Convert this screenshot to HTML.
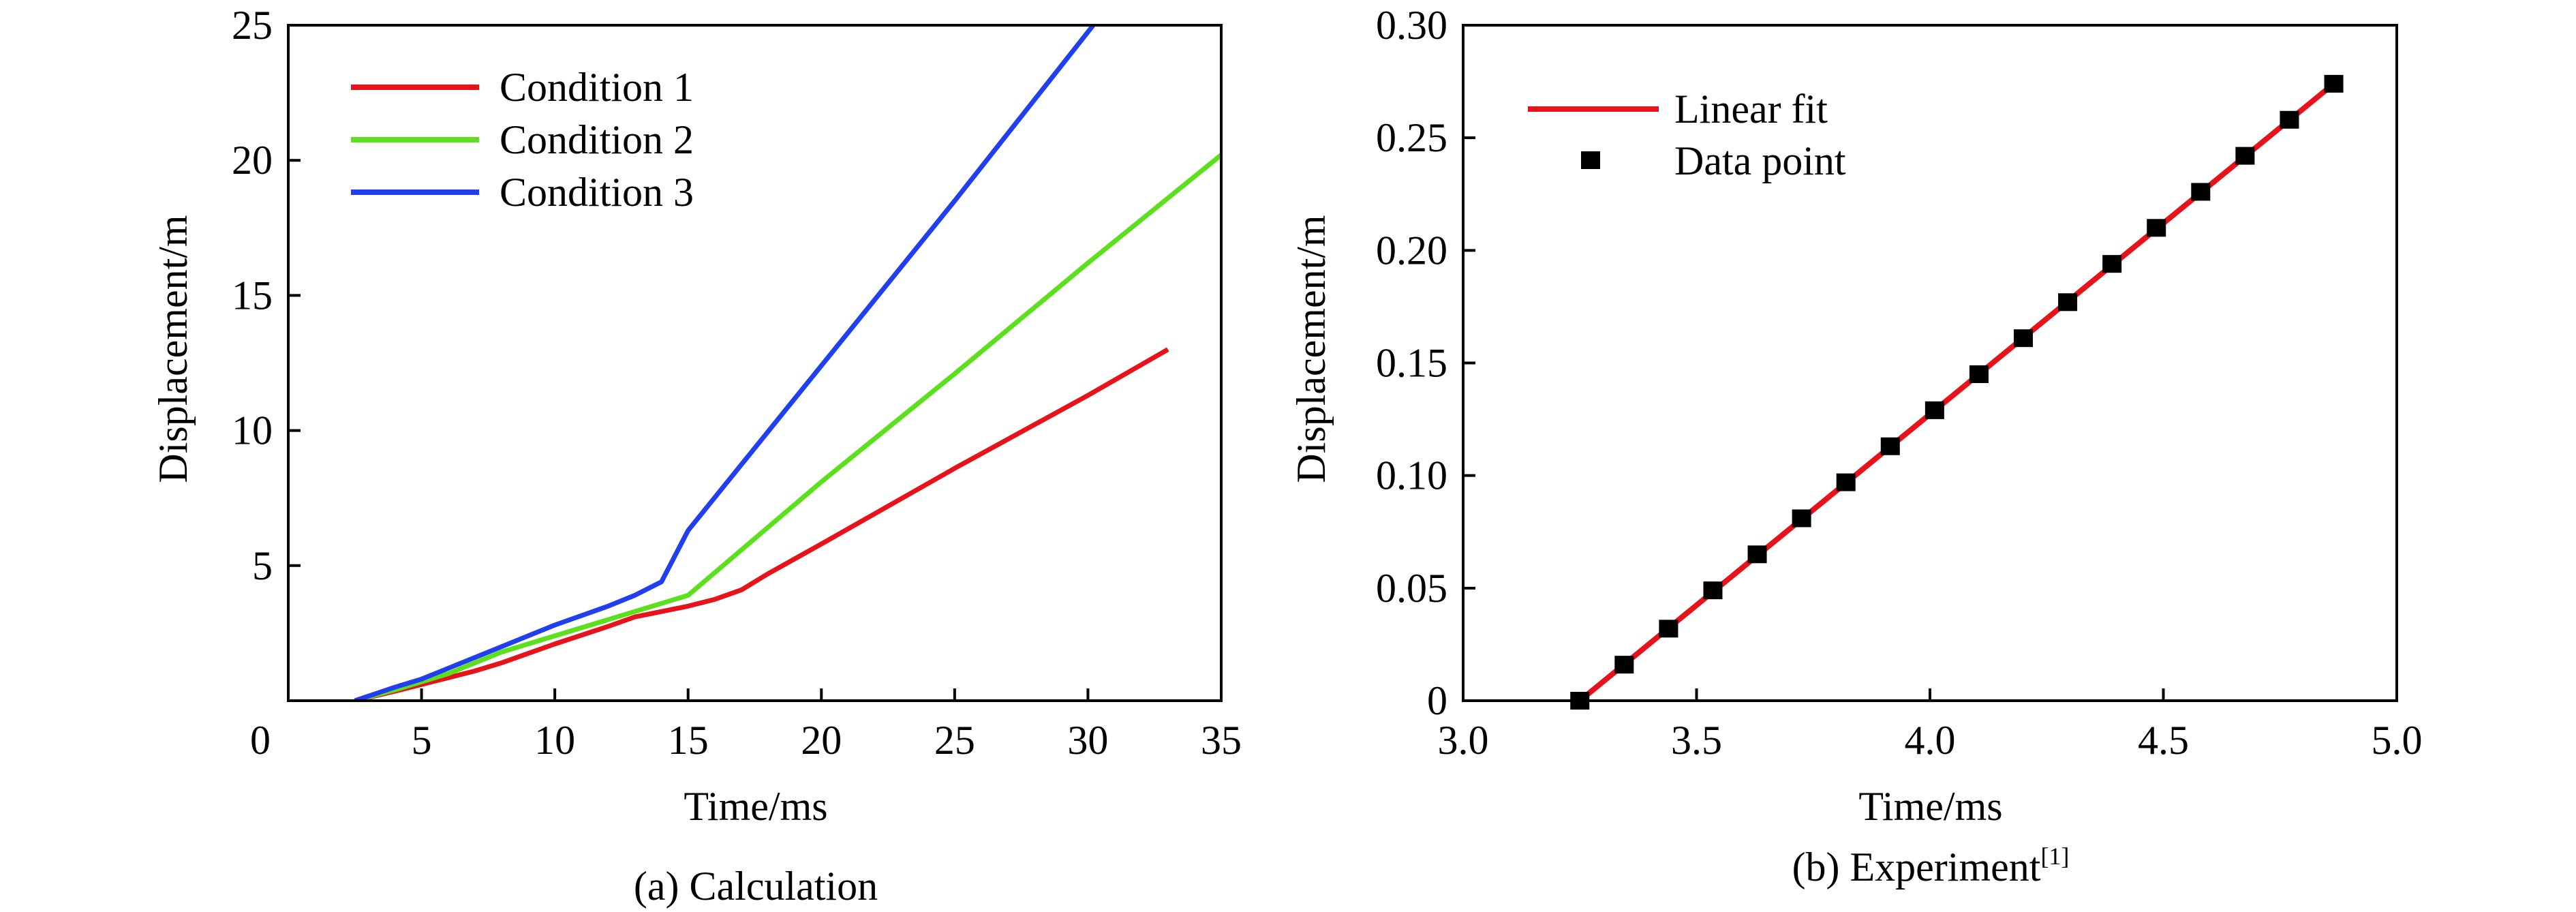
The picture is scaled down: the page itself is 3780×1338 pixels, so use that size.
<!DOCTYPE html>
<html><head><meta charset="utf-8"><style>
html,body{margin:0;padding:0;background:#fff;}
svg{display:block;font-family:"Liberation Serif",serif;}
</style></head><body>
<svg width="3780" height="1338" viewBox="0 0 3780 1338">
<g id="left"></g>
<g id="right"></g>
</svg>
<script>
// Left chart data
const aXTicks = [0,5,10,15,20,25,30,35];
const aYTicks = [5,10,15,20,25];
const c1x = [2.5,4,5,6,7,8,10,12,13,14,15,16,17,18,20,25,30,33];
const c1y = [0,0.35,0.6,0.85,1.1,1.4,2.1,2.75,3.1,3.3,3.5,3.75,4.1,4.7,5.8,8.6,11.3,13.0];
const c2x = [2.5,4,5,6,7,8,10,12,13,14,15,20,25,30,35];
const c2y = [0,0.4,0.7,1.0,1.4,1.8,2.4,3.0,3.3,3.6,3.9,8.1,12.1,16.2,20.2];
const c3x = [2.5,4,5,6,7,8,10,12,13,14,15,20,25,30.2];
const c3y = [0,0.5,0.8,1.2,1.6,2.0,2.8,3.5,3.9,4.4,6.3,12.4,18.5,25];
// Right chart data
const bXTicks = [3.0,3.5,4.0,4.5,5.0];
const bYTicks = [0,0.05,0.10,0.15,0.20,0.25,0.30];
const ptX = [3.25,3.345,3.44,3.535,3.63,3.725,3.82,3.915,4.01,4.105,4.2,4.295,4.39,4.485,4.58,4.675,4.77,4.865];
const ptY = [0,0.016,0.032,0.049,0.065,0.081,0.097,0.113,0.129,0.145,0.161,0.177,0.194,0.210,0.226,0.242,0.258,0.274];

const NS='http://www.w3.org/2000/svg';
function mk(parent,tag,attrs,text){const e=document.createElementNS(NS,tag);for(const k in attrs)e.setAttribute(k,attrs[k]);if(text!==undefined)e.textContent=text;parent.appendChild(e);return e;}

// ---- left
const L=document.getElementById('left');
const lx0=423,lx1=1792,ly0=1028,ly1=37;
const ax=v=>lx0+(v-0)/35*(lx1-lx0);
const ay=v=>ly0-(v-0)/25*(ly0-ly1);
function series(g,xs,ys,color,name){
  const p=mk(g,'polyline',{points:xs.map((x,i)=>ax(x)+','+ay(ys[i])).join(' '),fill:'none',stroke:color,'stroke-width':7,'stroke-linejoin':'round'});
  
  
}
const clip=mk(L,'clipPath',{id:'lc'});mk(clip,'rect',{x:lx0,y:ly1,width:lx1-lx0,height:ly0-ly1});
const sg=mk(L,'g',{'clip-path':'url(#lc)'});
series(sg,c1x,c1y,'#e8131a','condition-1-line');
series(sg,c2x,c2y,'#5de01c','condition-2-line');
series(sg,c3x,c3y,'#1f3ff0','condition-3-line');
const lf=mk(L,'rect',{x:lx0,y:ly1,width:lx1-lx0,height:ly0-ly1,fill:'none',stroke:'#000','stroke-width':4});


aXTicks.forEach(v=>{
  if(v>0&&v<35){const t=mk(L,'line',{x1:ax(v),x2:ax(v),y1:ly0,y2:ly0-18,stroke:'#000','stroke-width':4});
  }
  const tx=mk(L,'text',{x:v===0?382:ax(v),y:1106,'font-size':60,'text-anchor':'middle'},String(v));
  
  
});
aYTicks.forEach(v=>{
  if(v<25){const t=mk(L,'line',{x1:lx0,x2:lx0+18,y1:ay(v),y2:ay(v),stroke:'#000','stroke-width':4});
  }
  const tx=mk(L,'text',{x:400,y:ay(v)+20,'font-size':60,'text-anchor':'end'},String(v));
  
  
});
let t;
t=mk(L,'text',{x:1109,y:1203,'font-size':60,'text-anchor':'middle'},'Time/ms');

t=mk(L,'text',{x:274,y:512,'font-size':60,'text-anchor':'middle',transform:'rotate(-90 274 512)'},'Displacement/m');

t=mk(L,'text',{x:1109,y:1320,'font-size':60,'text-anchor':'middle'},'(a) Calculation');

[['Condition 1','#e8131a',128],['Condition 2','#5de01c',205],['Condition 3','#1f3ff0',282]].forEach((d,i)=>{
  const g=mk(L,'g',{});
  
  
  mk(g,'line',{x1:515,x2:703,y1:d[2],y2:d[2],stroke:d[1],'stroke-width':8});
  mk(g,'text',{x:733,y:d[2]+20,'font-size':60},d[0]);
});

// ---- right
const R=document.getElementById('right');
const rx0=2147,rx1=3517,ry0=1028,ry1=37;
const bx=v=>rx0+(v-3)/2*(rx1-rx0);
const by=v=>ry0-v/0.30*(ry0-ry1);
const fit=mk(R,'line',{x1:bx(ptX[0]),y1:by(ptY[0]),x2:bx(ptX[ptX.length-1]),y2:by(ptY[ptY.length-1]),stroke:'#e8131a','stroke-width':8});


ptX.forEach((x,i)=>{
  const r=mk(R,'rect',{x:bx(x)-14,y:by(ptY[i])-13,width:28,height:26,fill:'#000'});
  
  
});
const rf=mk(R,'rect',{x:rx0,y:ry1,width:rx1-rx0,height:ry0-ry1,fill:'none',stroke:'#000','stroke-width':4});


bXTicks.forEach(v=>{
  if(v>3&&v<5){const tk=mk(R,'line',{x1:bx(v),x2:bx(v),y1:ry0,y2:ry0-18,stroke:'#000','stroke-width':4});
  }
  const tx=mk(R,'text',{x:bx(v),y:1106,'font-size':60,'text-anchor':'middle'},v.toFixed(1));
  
  
});
bYTicks.forEach(v=>{
  if(v>0&&v<0.3){const tk=mk(R,'line',{x1:rx0,x2:rx0+18,y1:by(v),y2:by(v),stroke:'#000','stroke-width':4});
  }
  const tx=mk(R,'text',{x:2124,y:by(v)+20,'font-size':60,'text-anchor':'end'},v===0?'0':v.toFixed(2));
  
  
});
t=mk(R,'text',{x:2833,y:1203,'font-size':60,'text-anchor':'middle'},'Time/ms');

t=mk(R,'text',{x:1944,y:512,'font-size':60,'text-anchor':'middle',transform:'rotate(-90 1944 512)'},'Displacement/m');

t=mk(R,'text',{x:2833,y:1292,'font-size':60,'text-anchor':'middle'},'(b) Experiment');
mk(t,'tspan',{'font-size':36,dy:-24},'[1]');

let g=mk(R,'g',{});


mk(g,'line',{x1:2242,x2:2434,y1:160,y2:160,stroke:'#e8131a','stroke-width':8});
mk(g,'text',{x:2457,y:180,'font-size':60},'Linear fit');
g=mk(R,'g',{});


mk(g,'rect',{x:2320,y:222,width:28,height:26,fill:'#000'});
mk(g,'text',{x:2457,y:256,'font-size':60},'Data point');
</script>
</body></html>
